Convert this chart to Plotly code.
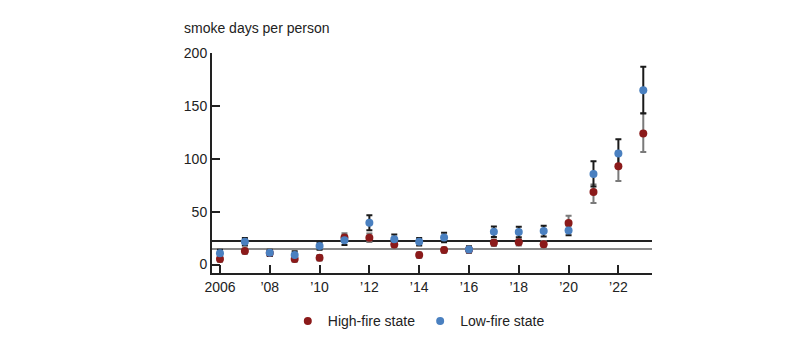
import plotly.graph_objects as go

years = list(range(2006, 2024))
high_fire = [5.2, 12.7, 11.0, 5.2, 6.4, 25.5, 25.3, 19.0, 9.0, 13.7, 14.0, 20.6, 21.0, 19.3, 39.2, 68.7, 92.9, 123.8]
high_err_plus = [2.5, 2.5, 2.5, 2.5, 2.5, 4.0, 4.0, 3.0, 2.5, 2.5, 2.5, 3.0, 3.0, 3.0, 7.0, 7.0, 14.0, 19.4]
high_err_minus = [2.5, 2.5, 2.5, 2.5, 2.5, 4.0, 4.0, 3.0, 2.5, 2.5, 2.5, 3.0, 3.0, 3.0, 6.0, 10.4, 14.0, 17.4]
low_fire = [10.6, 21.5, 11.1, 9.0, 17.5, 23.0, 39.5, 23.8, 21.5, 25.6, 14.3, 31.0, 30.7, 31.6, 32.3, 85.7, 104.9, 164.9]
low_err = [3.5, 3.5, 3.0, 3.5, 3.5, 4.5, 7.0, 4.5, 3.5, 4.5, 3.0, 5.0, 5.0, 5.0, 4.5, 12.0, 13.5, 22.0]
low_mean_line = 22.2
high_mean_line = 14.6

tick_years = [2006, 2008, 2010, 2012, 2014, 2016, 2018, 2020, 2022]
tick_text = ["2006", "\u201908", "\u201910", "\u201912", "\u201914", "\u201916", "\u201918", "\u201920", "\u201922"]
y_ticks = [0, 50, 100, 150, 200]

RED = "#8B1A1A"
BLUE = "#4A80C0"
FONT = "Liberation Sans, Arial, sans-serif"

fig = go.Figure()
# error bars (drawn first)
fig.add_trace(go.Scatter(
    x=years, y=high_fire, mode="markers", showlegend=False, hoverinfo="skip",
    marker=dict(size=8, color="rgba(0,0,0,0)"),
    error_y=dict(type="data", array=high_err_plus, arrayminus=high_err_minus,
                 color="#7a7a7a", thickness=2, width=3)))
fig.add_trace(go.Scatter(
    x=years, y=low_fire, mode="markers", showlegend=False, hoverinfo="skip",
    marker=dict(size=8, color="rgba(0,0,0,0)"),
    error_y=dict(type="data", array=low_err, color="#1a1a1a", thickness=2, width=3)))
# markers
fig.add_trace(go.Scatter(
    x=years, y=high_fire, mode="markers", name="High-fire state",
    marker=dict(size=8, color=RED)))
fig.add_trace(go.Scatter(
    x=years, y=low_fire, mode="markers", name="Low-fire state",
    marker=dict(size=8, color=BLUE)))

fig.add_hline(y=low_mean_line, line=dict(color="#222222", width=2), layer="below")
fig.add_hline(y=high_mean_line, line=dict(color="#8a8a8a", width=2), layer="below")

fig.update_layout(
    width=800, height=352,
    margin=dict(l=212, r=148, t=53, b=79),
    paper_bgcolor="white", plot_bgcolor="white",
    font=dict(family=FONT, size=14, color="#222222"),
    showlegend=True,
    legend=dict(orientation="h", x=0.47, xanchor="center", y=-0.22, yanchor="middle",
                font=dict(size=14), itemsizing="trace", itemwidth=30, traceorder="normal"),
    annotations=[dict(text="smoke days per person", xref="paper", yref="paper",
                      x=-0.068, y=1.112, xanchor="left", yanchor="middle",
                      showarrow=False, font=dict(size=14, color="#222222"))],
)
fig.update_xaxes(range=[2005.68, 2023.35], tickvals=tick_years, ticktext=tick_text,
                 showgrid=False, zeroline=False, showline=True, linecolor="#222222", linewidth=2,
                 ticks="inside", ticklen=8, tickwidth=2, tickcolor="#222222")
fig.update_yaxes(range=[-8, 200], tickvals=y_ticks,
                 showgrid=False, zeroline=False, showline=True, linecolor="#222222", linewidth=2,
                 ticks="inside", ticklen=8, tickwidth=2, tickcolor="#222222")

fig.write_html("out.html")
